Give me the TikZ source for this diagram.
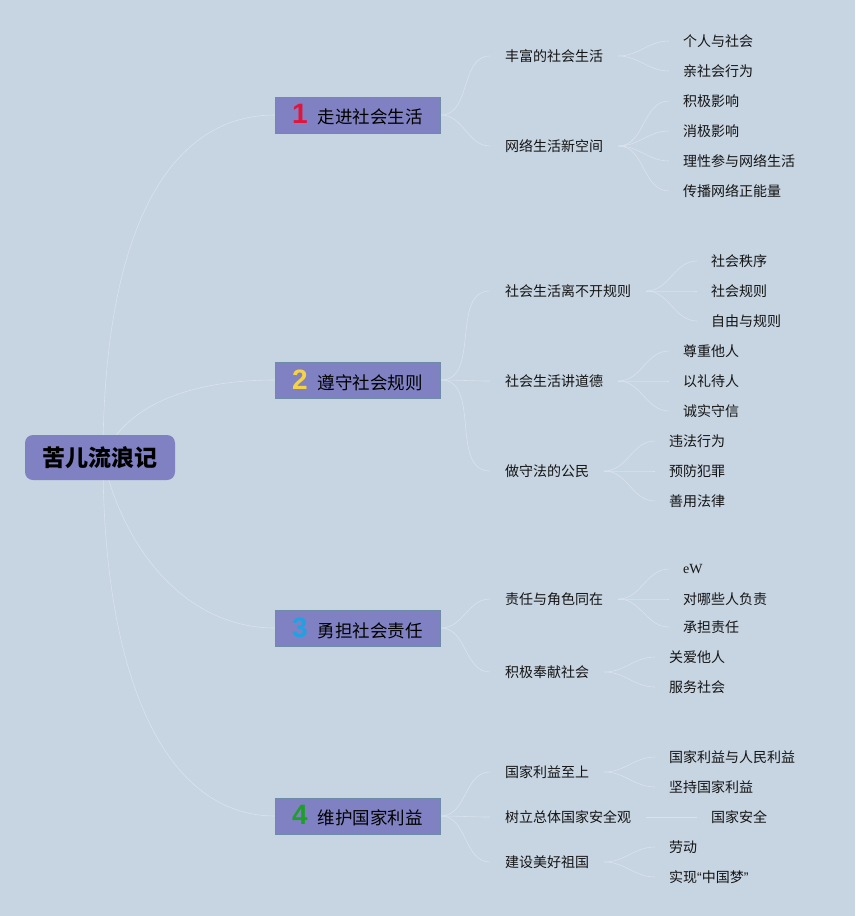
\documentclass[tikz,border=0pt]{standalone}
\usepackage{fontspec}
\newfontfamily\cjk{Noto Sans CJK SC}
\newfontfamily\numf{Liberation Sans}
\newfontfamily\numfb{Liberation Sans Bold}
\newfontfamily\serf{Liberation Serif}
\pgfdeclarelayer{bgl}
\pgfdeclarelayer{lines}
\pgfsetlayers{bgl,lines,main}
\definecolor{bgc}{RGB}{199,212,226}
\definecolor{boxc}{RGB}{128,129,194}
\definecolor{boxe}{RGB}{110,140,165}
\definecolor{linec}{RGB}{218,227,237}
\definecolor{nred}{RGB}{225,20,60}
\definecolor{nyel}{RGB}{245,210,70}
\definecolor{nblu}{RGB}{35,160,225}
\definecolor{ngrn}{RGB}{30,160,40}
\definecolor{txtc}{RGB}{20,20,20}
\newcommand\tnum[2]{\makebox[13pt][c]{\numfb\fontsize{28}{28}\selectfont\textcolor{#1}{#2}}\hspace{11pt}}
\begin{document}
\begin{tikzpicture}[x=1pt,y=-1pt,
 rootbox/.style={fill=boxc, rounded corners=8pt, minimum width=150pt, minimum height=45pt, inner sep=0pt, font=\cjk\bfseries\fontsize{23}{26}\selectfont},
 topic/.style={fill=boxc, draw=boxe, line width=1pt, minimum width=165pt, minimum height=36pt, inner xsep=18pt, inner ysep=0pt, text width=129pt, align=left, anchor=west, font=\cjk\fontsize{17.5}{20}\selectfont},
 sub/.style={anchor=west, inner xsep=15pt, inner ysep=2pt, text=txtc, font=\cjk\fontsize{14}{16}\selectfont},
 leaf/.style={anchor=west, inner xsep=14pt, inner ysep=2pt, text=txtc, font=\cjk\fontsize{14}{16}\selectfont},
 link/.style={draw=linec, line width=0.6pt},
]
\begin{pgfonlayer}{bgl}
\fill[bgc] (0,0) rectangle (855,916);
\end{pgfonlayer}
\useasboundingbox (0,0) rectangle (855,916);

% root
\node[rootbox] (root) at (100,457.5) {苦儿流浪记};
\coordinate (hub) at (103,458);

% topics
\node[topic] (t1) at (275,115) {\tnum{nred}{1}走进社会生活};
\node[topic] (t2) at (275,380) {\tnum{nyel}{2}遵守社会规则};
\node[topic] (t3) at (275,628) {\tnum{nblu}{3}勇担社会责任};
\node[topic] (t4) at (275,816) {\tnum{ngrn}{4}维护国家利益};

% subtopics
\node[sub] (s11) at (490,56) {丰富的社会生活};
\node[sub] (s12) at (490,146) {网络生活新空间};
\node[sub] (s21) at (490,291) {社会生活离不开规则};
\node[sub] (s22) at (490,381) {社会生活讲道德};
\node[sub] (s23) at (490,471) {做守法的公民};
\node[sub] (s31) at (490,599) {责任与角色同在};
\node[sub] (s32) at (490,672) {积极奉献社会};
\node[sub] (s41) at (490,772) {国家利益至上};
\node[sub] (s42) at (490,817) {树立总体国家安全观};
\node[sub] (s43) at (490,862) {建设美好祖国};

% leaves
\node[leaf] (l111) at (669,41) {个人与社会};
\node[leaf] (l112) at (669,71) {亲社会行为};
\node[leaf] (l121) at (669,101) {积极影响};
\node[leaf] (l122) at (669,131) {消极影响};
\node[leaf] (l123) at (669,161) {理性参与网络生活};
\node[leaf] (l124) at (669,191) {传播网络正能量};
\node[leaf] (l211) at (697,261) {社会秩序};
\node[leaf] (l212) at (697,291) {社会规则};
\node[leaf] (l213) at (697,321) {自由与规则};
\node[leaf] (l221) at (669,351) {尊重他人};
\node[leaf] (l222) at (669,381) {以礼待人};
\node[leaf] (l223) at (669,411) {诚实守信};
\node[leaf] (l231) at (655,441) {违法行为};
\node[leaf] (l232) at (655,471) {预防犯罪};
\node[leaf] (l233) at (655,501) {善用法律};
\node[leaf] (l311) at (669,569) {\serf eW};
\node[leaf] (l312) at (669,599) {对哪些人负责};
\node[leaf] (l313) at (669,627) {承担责任};
\node[leaf] (l321) at (655,657) {关爱他人};
\node[leaf] (l322) at (655,687) {服务社会};
\node[leaf] (l411) at (655,757) {国家利益与人民利益};
\node[leaf] (l412) at (655,787) {坚持国家利益};
\node[leaf] (l421) at (697,817) {国家安全};
\node[leaf] (l431) at (655,847) {劳动};
\node[leaf] (l432) at (655,877) {实现{\numf “}中国梦{\numf ”}};

\begin{pgfonlayer}{lines}
\draw[link] (hub) .. controls +(0,-220) and +(-110,0) .. (t1.west);
\draw[link] (hub) .. controls +(20,-50) and +(-90,0) .. (t2.west);
\draw[link] (hub) .. controls +(20,90) and +(-90,0) .. (t3.west);
\draw[link] (hub) .. controls +(0,220) and +(-110,0) .. (t4.west);
\foreach \t/\s in {t1/s11,t1/s12,t2/s21,t2/s22,t2/s23,t3/s31,t3/s32,t4/s41,t4/s42,t4/s43}
  \draw[link] (\t.east) to[out=0,in=180] (\s.west);
\foreach \s/\l in {s11/l111,s11/l112,s12/l121,s12/l122,s12/l123,s12/l124,
  s21/l211,s21/l212,s21/l213,s22/l221,s22/l222,s22/l223,s23/l231,s23/l232,s23/l233,
  s31/l311,s31/l312,s31/l313,s32/l321,s32/l322,s41/l411,s41/l412,s42/l421,s43/l431,s43/l432}
  \draw[link] (\s.east) to[out=0,in=180] (\l.west);
\end{pgfonlayer}
\end{tikzpicture}
\end{document}
